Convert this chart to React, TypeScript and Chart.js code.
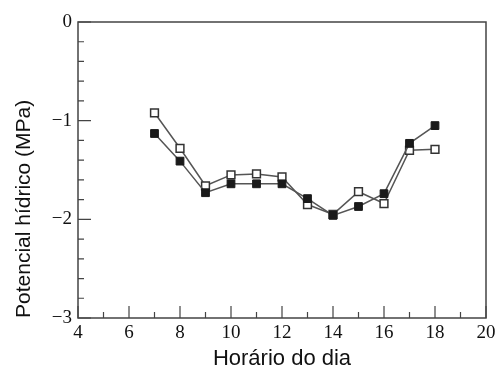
import React, { useEffect, useRef } from 'react';
import { Chart, registerables } from 'chart.js';

Chart.register(...registerables);

const hours = [7, 8, 9, 10, 11, 12, 13, 14, 15, 16, 17, 18];
const filledValues = [-1.13, -1.41, -1.73, -1.64, -1.64, -1.64, -1.79, -1.96, -1.87, -1.74, -1.23, -1.05];
const openValues = [-0.92, -1.28, -1.66, -1.55, -1.54, -1.57, -1.85, -1.95, -1.72, -1.84, -1.3, -1.29];
const xMajorTicks = [4, 6, 8, 10, 12, 14, 16, 18, 20];
const xMinorTicks = [5, 7, 9, 11, 13, 15, 17, 19];
const yMajorTicks = [-3, -2, -1, 0];
const yMinorTicks = [-2.8, -2.6, -2.4, -2.2, -1.8, -1.6, -1.4, -1.2, -0.8, -0.6, -0.4, -0.2];
const xTitle = 'Horário do dia';
const yTitle = 'Potencial hídrico (MPa)';

const framePlugin = {
  id: 'frameTicks',
  afterDatasetsDraw(chart: any) {
    const { ctx, chartArea, scales } = chart;
    const { left, right, top, bottom } = chartArea;
    ctx.save();
    ctx.strokeStyle = '#444';
    ctx.lineWidth = 1.5;
    ctx.beginPath();
    ctx.rect(left, top, right - left, bottom - top);
    ctx.stroke();
    ctx.lineWidth = 1.2;
    ctx.beginPath();
    for (const v of xMajorTicks) {
      const x = scales.x.getPixelForValue(v);
      ctx.moveTo(x, bottom);
      ctx.lineTo(x, bottom - 12);
    }
    for (const v of xMinorTicks) {
      const x = scales.x.getPixelForValue(v);
      ctx.moveTo(x, bottom);
      ctx.lineTo(x, bottom - 6);
    }
    for (const v of yMajorTicks) {
      const y = scales.y.getPixelForValue(v);
      ctx.moveTo(left, y);
      ctx.lineTo(left + 13, y);
    }
    for (const v of yMinorTicks) {
      const y = scales.y.getPixelForValue(v);
      ctx.moveTo(left, y);
      ctx.lineTo(left + 6, y);
    }
    ctx.stroke();
    ctx.restore();
  },
};

export default function App() {
  const canvasRef = useRef<HTMLCanvasElement | null>(null);

  useEffect(() => {
    if (!canvasRef.current) return;
    const chart = new Chart(canvasRef.current, {
      type: 'line',
      data: {
        datasets: [
          {
            label: 'filled',
            data: hours.map((h, i) => ({ x: h, y: filledValues[i] })),
            borderColor: '#555',
            borderWidth: 1.5,
            backgroundColor: '#1a1a1a',
            pointStyle: 'rect',
            pointRadius: 5.5,
            pointBorderColor: '#1a1a1a',
            pointBackgroundColor: '#1a1a1a',
            pointBorderWidth: 1,
            tension: 0,
          },
          {
            label: 'open',
            data: hours.map((h, i) => ({ x: h, y: openValues[i] })),
            borderColor: '#555',
            borderWidth: 1.5,
            backgroundColor: '#fff',
            pointStyle: 'rect',
            pointRadius: 5.5,
            pointBorderColor: '#333',
            pointBackgroundColor: '#fff',
            pointBorderWidth: 1.5,
            tension: 0,
          },
        ],
      },
      options: {
        animation: false,
        responsive: true,
        maintainAspectRatio: false,
        layout: { padding: { left: 0, top: 22, right: 14, bottom: 0 } },
        plugins: { legend: { display: false }, tooltip: { enabled: false } },
        scales: {
          x: {
            type: 'linear',
            min: 4,
            max: 20,
            afterFit: (s: any) => {
              s.height = 61;
            },
            grid: { display: false, drawTicks: false },
            border: { display: false },
            ticks: {
              stepSize: 2,
              padding: 4,
              color: '#111',
              font: { family: 'Liberation Serif', size: 19 },
            },
            title: {
              display: true,
              text: xTitle,
              color: '#111',
              font: { family: 'Liberation Sans', size: 22 },
              padding: { top: 0, bottom: 7 },
            },
          },
          y: {
            type: 'linear',
            min: -3,
            max: 0,
            afterFit: (s: any) => {
              s.width = 78;
            },
            grid: { display: false, drawTicks: false },
            border: { display: false },
            ticks: {
              stepSize: 1,
              padding: 6,
              color: '#111',
              font: { family: 'Liberation Serif', size: 19 },
              callback: (v: any) => (Number(v) < 0 ? '\u2212' + Math.abs(Number(v)) : String(v)),
            },
            title: {
              display: true,
              text: yTitle,
              align: 'start',
              color: '#111',
              font: { family: 'Liberation Sans', size: 21 },
              padding: { top: 12, bottom: 0 },
            },
          },
        },
      },
      plugins: [framePlugin],
    } as any);
    return () => chart.destroy();
  }, []);

  return (
    <div style={{ position: 'absolute', left: 0, top: 0, width: 500, height: 379, background: '#fff' }}>
      <canvas ref={canvasRef} />
    </div>
  );
}
